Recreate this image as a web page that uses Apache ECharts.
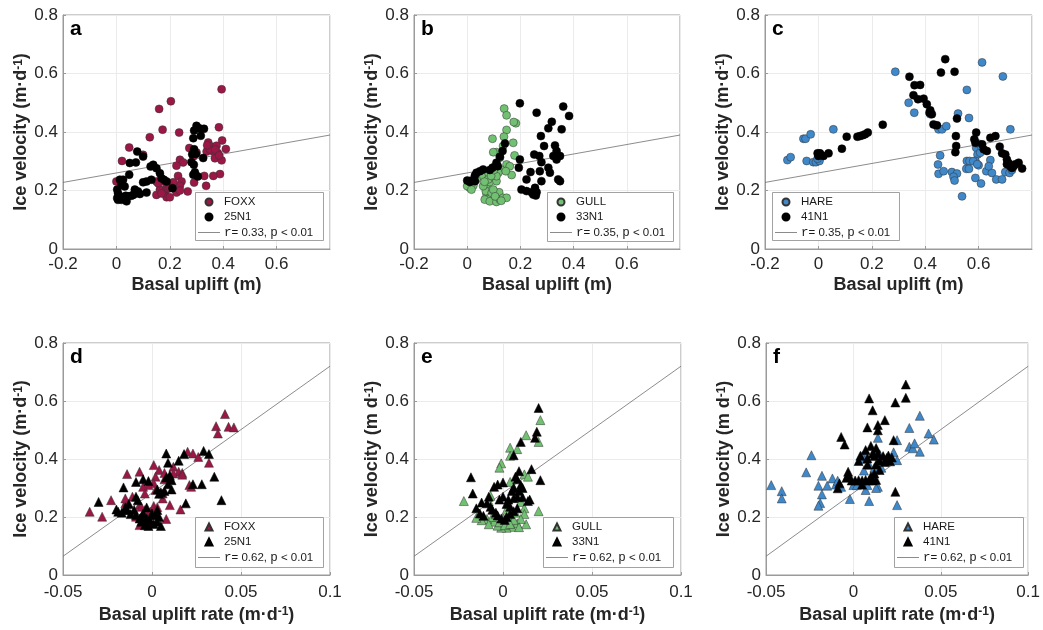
<!DOCTYPE html>
<html>
<head>
<meta charset="utf-8">
<script src="https://cdn.jsdelivr.net/npm/echarts@6/dist/echarts.min.js"></script>
<style>
  body { margin: 0; background: #fff; }
  #main { width: 1043px; height: 630px; }
</style>
</head>
<body>
<div id="main"></div>
<script>
// data: [basal uplift, ice velocity]
let a_FOXX = [[0.394,0.546],[0.204,0.505],[0.16,0.479],[0.173,0.408],[0.125,0.382],[0.235,0.398],[0.048,0.347],[0.021,0.301],[0.1,0.322],[0,0.231],[0.384,0.416],[0.396,0.371],[0.41,0.342],[0.344,0.364],[0.356,0.35],[0.375,0.353],[0.38,0.328],[0.363,0.333],[0.338,0.333],[0.369,0.31],[0.394,0.303],[0.388,0.256],[0.363,0.25],[0.329,0.25],[0.336,0.216],[0.238,0.305],[0.25,0.296],[0.273,0.345],[0.288,0.316],[0.3,0.33],[0.231,0.25],[0.244,0.231],[0.238,0.216],[0.213,0.228],[0.225,0.285],[0.225,0.193],[0.267,0.197],[0.291,0.227],[0.15,0.231],[0.15,0.185],[0.163,0.203],[0.181,0.191],[0.188,0.177],[0.2,0.177],[0.188,0.208],[0.175,0.231],[0.156,0.225],[0.194,0.206],[0.2,0.21],[0.238,0.2],[0.169,0.19],[0.35,0.34],[0.34,0.355],[0.37,0.34],[0.385,0.32]];
let a_25N1 = [[0.3,0.421],[0.31,0.413],[0.328,0.411],[0.291,0.405],[0.316,0.387],[0.288,0.379],[0.291,0.341],[0.284,0.324],[0.298,0.325],[0.325,0.311],[0.281,0.297],[0.29,0.288],[0.294,0.262],[0.305,0.248],[0.288,0.254],[0.21,0.208],[0.163,0.259],[0.15,0.276],[0.138,0.288],[0.128,0.282],[0.169,0.242],[0.178,0.237],[0.188,0.231],[0.131,0.237],[0.113,0.231],[0.1,0.228],[0.081,0.197],[0.073,0.191],[0.056,0.182],[0.044,0.18],[0.035,0.182],[0.013,0.18],[0.006,0.168],[0.019,0.168],[0.038,0.163],[0.006,0.191],[0.003,0.203],[0.019,0.22],[0.025,0.237],[0.013,0.237],[0.048,0.254],[0.05,0.294],[0.073,0.296],[0.078,0.333],[0.1,0.316],[0.113,0.193],[0.088,0.188],[0.063,0.185],[0.003,0.174],[0.031,0.214],[0.069,0.203]];
let b_GULL = [[0.139,0.48],[0.148,0.457],[0.183,0.43],[0.175,0.434],[0.148,0.407],[0.138,0.384],[0.095,0.377],[0.173,0.363],[0.11,0.331],[0.098,0.331],[0.135,0.352],[0.178,0.32],[0.123,0.312],[0.148,0.289],[0.16,0.283],[0.167,0.253],[0.127,0.272],[0.117,0.261],[0.145,0.266],[0.104,0.283],[0.085,0.261],[0.073,0.255],[0.054,0.249],[0.035,0.238],[0.023,0.217],[0.01,0.209],[0,0.215],[0.016,0.203],[0.073,0.22],[0.085,0.229],[0.11,0.232],[0.12,0.194],[0.073,0.186],[0.079,0.171],[0.066,0.169],[0.085,0.163],[0.11,0.161],[0.123,0.169],[0.135,0.175],[0.148,0.175],[0.07,0.198],[0.092,0.192],[0.06,0.215],[0.098,0.203],[0.079,0.238],[0.11,0.249],[0.09,0.25],[0.1,0.27],[0.065,0.23],[0.105,0.18],[0.128,0.165]];
let b_33N1 = [[0.198,0.498],[0.261,0.466],[0.361,0.487],[0.383,0.455],[0.318,0.435],[0.305,0.413],[0.355,0.409],[0.277,0.386],[0.289,0.352],[0.33,0.354],[0.336,0.335],[0.349,0.318],[0.336,0.306],[0.324,0.318],[0.252,0.323],[0.271,0.318],[0.279,0.297],[0.305,0.278],[0.311,0.261],[0.273,0.266],[0.238,0.263],[0.223,0.238],[0.279,0.232],[0.342,0.238],[0.349,0.232],[0.198,0.306],[0.194,0.278],[0.204,0.203],[0.223,0.198],[0.242,0.194],[0.255,0.209],[0.261,0.194],[0.258,0.183],[0.248,0.186],[0.142,0.361],[0.133,0.335],[0.123,0.315],[0.11,0.295],[0.115,0.283],[0.095,0.278],[0.085,0.27],[0.06,0.272],[0.048,0.266],[0.035,0.261],[0.029,0.251],[0.016,0.234],[0,0.234],[0.01,0.229],[0.029,0.232]];
let c_HARE = [[-0.116,0.304],[-0.104,0.314],[-0.056,0.377],[-0.048,0.377],[-0.029,0.392],[0.056,0.409],[-0.044,0.301],[-0.019,0.297],[-0.009,0.297],[0.004,0.301],[-0.003,0.309],[0.288,0.606],[0.338,0.5],[0.359,0.466],[0.419,0.461],[0.444,0.42],[0.45,0.409],[0.463,0.409],[0.479,0.42],[0.613,0.638],[0.691,0.59],[0.556,0.544],[0.523,0.463],[0.564,0.448],[0.719,0.409],[0.591,0.346],[0.596,0.323],[0.606,0.329],[0.588,0.301],[0.556,0.301],[0.566,0.301],[0.644,0.304],[0.456,0.32],[0.448,0.289],[0.45,0.257],[0.469,0.266],[0.5,0.263],[0.519,0.258],[0.506,0.247],[0.51,0.234],[0.554,0.274],[0.564,0.274],[0.588,0.243],[0.6,0.286],[0.609,0.224],[0.629,0.266],[0.65,0.26],[0.666,0.238],[0.688,0.238],[0.7,0.263],[0.716,0.26],[0.725,0.27],[0.538,0.18],[0.6,0.36],[0.61,0.35],[0.638,0.283],[0.58,0.3],[0.595,0.29]];
let c_41N1 = [[-0.003,0.327],[0.006,0.327],[0,0.318],[0.019,0.318],[0.038,0.327],[0.088,0.343],[0.106,0.384],[0.146,0.384],[0.156,0.386],[0.166,0.389],[0.175,0.392],[0.185,0.398],[0.241,0.425],[0.341,0.589],[0.36,0.56],[0.381,0.561],[0.356,0.526],[0.373,0.512],[0.394,0.514],[0.406,0.495],[0.419,0.474],[0.416,0.466],[0.425,0.461],[0.431,0.426],[0.444,0.423],[0.475,0.649],[0.459,0.603],[0.51,0.606],[0.519,0.446],[0.515,0.386],[0.516,0.352],[0.513,0.331],[0.591,0.398],[0.584,0.375],[0.588,0.363],[0.613,0.358],[0.619,0.341],[0.631,0.335],[0.644,0.38],[0.663,0.386],[0.679,0.35],[0.688,0.327],[0.7,0.323],[0.706,0.306],[0.713,0.293],[0.719,0.283],[0.731,0.283],[0.738,0.29],[0.75,0.295],[0.763,0.275],[0.706,0.29],[0.725,0.277]];
// [basal uplift rate, ice velocity]
let d_FOXX = [[0.041,0.555],[0.036,0.513],[0.037,0.488],[0.043,0.511],[0.046,0.509],[0.02,0.425],[0.023,0.419],[0.026,0.407],[0.032,0.387],[0.012,0.373],[0.015,0.356],[0.017,0.352],[0.017,0.346],[0.012,0.35],[0.01,0.339],[0.008,0.339],[0.007,0.33],[0.004,0.362],[0.001,0.379],[0.007,0.352],[0.002,0.339],[0.001,0.316],[-0.002,0.31],[-0.005,0.304],[-0.007,0.356],[-0.014,0.348],[-0.004,0.281],[0.002,0.293],[0.006,0.264],[0.01,0.241],[0.021,0.31],[0.022,0.304],[0.016,0.226],[0.008,0.193],[-0.023,0.258],[-0.028,0.201],[-0.035,0.218],[-0.015,0.247],[-0.014,0.224],[-0.007,0.241],[-0.004,0.224],[0.001,0.238],[-0.009,0.201],[-0.005,0.189],[-0.002,0.18],[-0.007,0.172],[0.002,0.207],[-0.001,0.218],[-0.011,0.27],[0.006,0.281],[-0.015,0.264],[-0.006,0.235],[0.003,0.234]];
let d_25N1 = [[0.008,0.419],[0.018,0.417],[0.029,0.428],[0.032,0.417],[0.015,0.394],[0.009,0.387],[-0.009,0.321],[-0.005,0.33],[-0.002,0.324],[0.008,0.336],[0.01,0.344],[0.011,0.327],[0.009,0.313],[0.011,0.295],[0.003,0.295],[0.005,0.285],[0.007,0.29],[0.004,0.28],[-0.016,0.302],[-0.03,0.252],[-0.02,0.226],[-0.015,0.233],[-0.013,0.245],[-0.009,0.27],[0.023,0.313],[0.028,0.313],[0.019,0.247],[0.035,0.339],[0.039,0.258],[-0.01,0.224],[-0.009,0.207],[-0.007,0.195],[-0.006,0.184],[-0.004,0.172],[-0.002,0.169],[0.001,0.176],[0.003,0.184],[0.005,0.169],[-0.001,0.189],[-0.005,0.212],[0.002,0.207],[0.003,0.224],[0,0.212],[-0.003,0.233],[-0.008,0.258],[-0.014,0.224],[-0.017,0.215],[-0.019,0.218],[-0.006,0.2],[-0.003,0.195],[0.004,0.2],[-0.012,0.21]];
let e_GULL = [[0.021,0.534],[0.013,0.482],[0.02,0.459],[0.004,0.439],[0.008,0.434],[0.004,0.411],[-0.001,0.385],[-0.002,0.37],[-0.022,0.255],[0.012,0.347],[0.014,0.339],[0.004,0.321],[-0.007,0.273],[-0.008,0.255],[0.01,0.252],[0.012,0.23],[0.02,0.22],[0.012,0.21],[0.013,0.175],[0.008,0.178],[0.005,0.166],[0.002,0.163],[-0.001,0.163],[-0.003,0.17],[-0.005,0.184],[-0.009,0.193],[-0.012,0.189],[-0.015,0.197],[0.01,0.193],[0.003,0.2],[0.006,0.19],[-0.002,0.182],[0.001,0.172],[0.004,0.176],[-0.006,0.2],[0.007,0.215],[0,0.195],[-0.004,0.21],[0.009,0.165],[-0.008,0.175],[0.002,0.225],[0.006,0.3]];
let e_33N1 = [[0.02,0.576],[0.019,0.494],[0.018,0.473],[0.01,0.459],[0.006,0.413],[-0.018,0.337],[-0.017,0.281],[0.016,0.365],[0.021,0.327],[0.009,0.358],[0.007,0.339],[0.008,0.33],[0.01,0.31],[0.006,0.3],[0.005,0.29],[0.009,0.29],[0.011,0.3],[0,0.319],[-0.003,0.312],[-0.005,0.304],[0,0.27],[0.003,0.26],[0.006,0.265],[0.008,0.27],[0.011,0.268],[0.014,0.255],[0.015,0.26],[-0.012,0.25],[-0.015,0.23],[-0.009,0.247],[-0.007,0.235],[-0.006,0.225],[-0.004,0.215],[-0.003,0.205],[-0.001,0.195],[0.001,0.19],[0.002,0.2],[0.004,0.21],[0.006,0.22],[0.008,0.23],[-0.013,0.212],[-0.011,0.204],[-0.002,0.26],[0.002,0.245],[-0.008,0.27],[0.004,0.235]];
let f_HARE = [[-0.047,0.31],[-0.041,0.289],[-0.041,0.264],[-0.024,0.413],[-0.027,0.354],[-0.018,0.342],[-0.02,0.308],[-0.018,0.278],[-0.019,0.248],[-0.02,0.239],[-0.015,0.308],[-0.012,0.333],[-0.01,0.312],[-0.009,0.325],[-0.007,0.304],[-0.002,0.262],[0,0.31],[0.002,0.31],[0.007,0.293],[0.009,0.255],[0.014,0.304],[0.025,0.241],[0.007,0.416],[0.005,0.41],[0.004,0.4],[0.014,0.473],[0.014,0.383],[0.015,0.416],[0.019,0.404],[0.025,0.465],[0.023,0.423],[0.025,0.396],[0.032,0.507],[0.032,0.442],[0.034,0.437],[0.035,0.454],[0.038,0.425],[0.038,0.549],[0.043,0.488],[0.046,0.467],[0.011,0.344],[0.016,0.37],[0.009,0.38],[0.012,0.37],[0.006,0.36],[0.013,0.3],[0.008,0.31]];
let f_41N1 = [[0.03,0.657],[0.03,0.611],[0.009,0.609],[0.024,0.595],[0.011,0.568],[0.018,0.534],[0.014,0.517],[0.014,0.499],[0.008,0.509],[-0.007,0.476],[-0.005,0.45],[0.023,0.465],[0.007,0.431],[0.01,0.445],[0.013,0.438],[0.014,0.42],[0.011,0.419],[0.004,0.411],[0.008,0.402],[0.012,0.41],[0.017,0.41],[0.02,0.412],[0.019,0.4],[0.022,0.405],[0.015,0.395],[0.018,0.39],[0.021,0.392],[0.003,0.393],[0.008,0.381],[0.013,0.381],[0.015,0.362],[-0.003,0.356],[-0.003,0.344],[-0.004,0.335],[-0.001,0.326],[0.001,0.326],[0.003,0.327],[0.005,0.326],[0.007,0.328],[0.009,0.326],[0.011,0.326],[0.013,0.328],[-0.008,0.316],[0.005,0.312],[-0.009,0.299],[0.024,0.287],[0.01,0.34],[0.012,0.35]];

let panelLetters = ['a', 'b', 'c', 'd', 'e', 'f'];
let glacierNames = ['FOXX', 'GULL', 'HARE', 'FOXX', 'GULL', 'HARE'];
let stationNames = ['25N1', '33N1', '41N1', '25N1', '33N1', '41N1'];
let glacierData = [a_FOXX, b_GULL, c_HARE, d_FOXX, e_GULL, f_HARE];
let stationData = [a_25N1, b_33N1, c_41N1, d_25N1, e_33N1, f_41N1];
let rValues = ['0.33', '0.35', '0.35', '0.62', '0.62', '0.62'];
// regression line of each row: slope, intercept
let fitSlope = [0.162, 4.37];
let fitIntercept = [0.26, 0.283];
let xMin = [-0.2, -0.05];
let xMax = [0.8, 0.1];
let xStep = [0.2, 0.05];
let yTicks = [0, 0.2, 0.4, 0.6, 0.8];

let glacierColor = { FOXX: '#9b1746', GULL: '#72c172', HARE: '#3f88ca' };

// layout
let grids = [
    { left: 63, top: 15, width: 267, height: 234 },
    { left: 414, top: 15, width: 266, height: 234 },
    { left: 765, top: 15, width: 267, height: 234 },
    { left: 63, top: 343, width: 267, height: 232 },
    { left: 414, top: 343, width: 267, height: 232 },
    { left: 766, top: 343, width: 265, height: 232 }
];
let legendBoxes = [[195,192,128,48],[547,192,126,49],[772,192,127,48],[195,517,128,50],[543,517,130,50],[894,517,129,50]];

let font = 'Liberation Sans';
let fmt = function(v){ return String(+v.toFixed(2)); };
// legend icons that keep their aspect inside the item box
let triIcon = 'path://M5,0L10,10L0,10Z';
let lineIcon = 'path://M0,0H22V0.8H0Z';

let app = {};
app.option = { backgroundColor: '#fff', animation: false, grid: [], xAxis: [], yAxis: [], series: [], legend: [], graphic: [] };

for (let i = 0; i < 6; i++) {
    let row = i < 3 ? 0 : 1;
    let g = grids[i];
    app.option.grid.push(Object.assign({ show: true, borderColor: '#9a9a9a', borderWidth: 1 }, g));

    let xName = row == 0 ? 'Basal uplift (m)' : 'Basal uplift rate (m·d{sup|-1})';
    app.option.xAxis.push({
        type: 'value', gridIndex: i,
        min: xMin[row], max: xMax[row], interval: xStep[row],
        name: xName, nameLocation: 'middle', nameGap: row == 0 ? 27 : 31,
        nameTextStyle: { fontFamily: font, fontSize: 18, fontWeight: 'bold', color: '#262626',
            rich: { sup: { fontFamily: font, fontSize: 12, fontWeight: 'bold', color: '#262626', verticalAlign: 'top' } } },
        axisLine: { onZero: false, lineStyle: { color: '#9a9a9a', width: 1 } },
        axisTick: { inside: true, length: 3, lineStyle: { color: '#9a9a9a' } },
        axisLabel: { fontFamily: font, fontSize: 17, color: '#262626', margin: row == 0 ? 7 : 9,
            showMaxLabel: row == 1, formatter: fmt },
        splitLine: { lineStyle: { color: '#ebebeb', width: 1 } }
    });

    let yName = (i == 4 || i == 5) ? 'Ice velocity (m d{sup|-1})' : 'Ice velocity (m·d{sup|-1})';
    app.option.yAxis.push({
        type: 'value', gridIndex: i,
        min: yTicks[0], max: yTicks[yTicks.length - 1], interval: 0.2,
        name: yName, nameLocation: 'middle', nameGap: 31, nameRotate: 90,
        nameTextStyle: { fontFamily: font, fontSize: 18, fontWeight: 'bold', color: '#262626',
            rich: { sup: { fontFamily: font, fontSize: 12, fontWeight: 'bold', color: '#262626', verticalAlign: 'top' } } },
        axisLine: { onZero: false, lineStyle: { color: '#9a9a9a', width: 1 } },
        axisTick: { inside: true, length: 3, lineStyle: { color: '#9a9a9a' } },
        axisLabel: { fontFamily: font, fontSize: 17, color: '#262626', margin: 5, formatter: fmt },
        splitLine: { lineStyle: { color: '#ebebeb', width: 1 } }
    });

    let sym = row == 0 ? 'circle' : 'triangle';
    let size = row == 0 ? 8 : 9;
    let icon = row == 0 ? 'circle' : triIcon;
    let gName = glacierNames[i] + '|' + i;
    let sName = stationNames[i] + '|' + i;
    let lName = 'r= ' + rValues[i] + ', p < 0.01|' + i;

    // fitted line from the axis limits
    let x0 = xMin[row], x1 = xMax[row];
    app.option.series.push({
        name: lName, type: 'line', xAxisIndex: i, yAxisIndex: i, symbol: 'none', z: 1,
        data: [[x0, fitIntercept[row] + fitSlope[row] * x0], [x1, fitIntercept[row] + fitSlope[row] * x1]],
        lineStyle: { color: '#6e6e6e', width: 0.8 }, itemStyle: { color: '#6e6e6e' }
    });
    app.option.series.push({
        name: gName, type: 'scatter', xAxisIndex: i, yAxisIndex: i, symbol: sym, symbolSize: size,
        data: glacierData[i],
        itemStyle: { color: glacierColor[glacierNames[i]], borderColor: '#333', borderWidth: 0.5, opacity: 1 }
    });
    app.option.series.push({
        name: sName, type: 'scatter', xAxisIndex: i, yAxisIndex: i, symbol: sym, symbolSize: size,
        data: stationData[i],
        itemStyle: { color: '#000', borderColor: '#000', borderWidth: 0.5, opacity: 1 }
    });

    // legend box
    let b = legendBoxes[i];
    app.option.graphic.push({
        type: 'rect', z: 3, shape: { x: b[0] + 0.5, y: b[1] + 0.5, width: b[2], height: b[3] },
        style: { fill: '#fff', stroke: '#8a8a8a', lineWidth: 0.8 }
    });
    app.option.legend.push({
        orient: 'vertical', left: b[0] + 3, top: b[1] + 4, padding: 0, itemGap: 3,
        itemWidth: 22, itemHeight: 7, selectedMode: false, symbolKeepAspect: true, z: 5,
        data: [
            { name: gName, icon: icon },
            { name: sName, icon: icon },
            { name: lName, icon: lineIcon }
        ],
        formatter: function(name){
            let t = name.split('|')[0];
            if (t.indexOf('r=') == 0) {
                return '{c|r}= ' + rValues[i] + ', {c|p} < 0.01';
            }
            return t;
        },
        textStyle: { fontFamily: font, fontSize: 11.5, color: '#1a1a1a', padding: [0, 0, 0, -1],
            rich: { c: { fontFamily: 'Liberation Mono', fontSize: 12.5, color: '#1a1a1a' } } }
    });

    // panel letter
    app.option.graphic.push({
        type: 'text', z: 6, left: g.left + 7, top: g.top + 4,
        style: { text: panelLetters[i], font: 'bold 21px ' + font, fill: '#000' }
    });
}

let myChart = echarts.init(document.getElementById('main'));
myChart.setOption(app.option);
</script>
</body>
</html>
